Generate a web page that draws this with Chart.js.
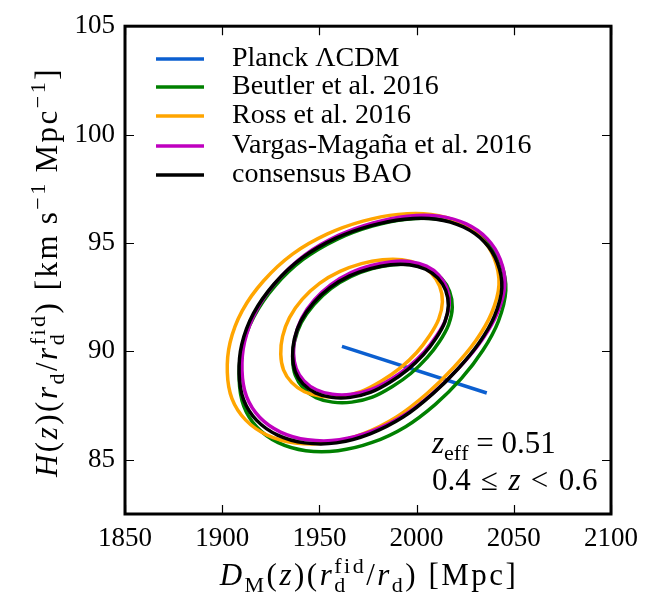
<!DOCTYPE html>
<html>
<head>
<meta charset="utf-8">
<script src="https://cdn.jsdelivr.net/npm/chart.js@4.4.1/dist/chart.umd.min.js"></script>
<style>
  html, body { margin: 0; padding: 0; background: #fff; }
  canvas { display: block; }
</style>
</head>
<body>
<canvas id="baoChart" width="647" height="596"></canvas>
<script>
// ticks
const xTicks = [1850, 1900, 1950, 2000, 2050, 2100];
const yTicks = [85, 90, 95, 100, 105];

// legend names
const seriesNames = ['Planck \u039BCDM', 'Beutler et al. 2016', 'Ross et al. 2016', 'Vargas-Maga\u00F1a et al. 2016', 'consensus BAO'];
const seriesColors = ['#0b5fd0', '#008000', '#ffa500', '#bf00bf', '#000000'];

// Planck LCDM line
const planckX = [1961.6, 2036.1];
const planckY = [90.23, 88.08];

// contour points (1 = inner, 2 = outer)
const beutler1X = [2018.36, 2016.48, 2011.78, 2005.28, 1996.99, 1987.58, 1977.25, 1966.67, 1956.77, 1948.26, 1941.74, 1937.64, 1936.24, 1937.16, 1940.66, 1947.2, 1955.93, 1966.32, 1977.25, 1987.93, 1997.83, 2006.34, 2012.86, 2016.96];
const beutler1Y = [92.04, 91.24, 90.46, 89.7, 88.98, 88.38, 87.89, 87.66, 87.66, 87.87, 88.3, 88.89, 89.62, 90.44, 91.32, 92.16, 92.9, 93.46, 93.82, 94.0, 94.0, 93.79, 93.36, 92.77];
const beutler2X = [2045.88, 2042.1, 2034.11, 2022.96, 2009.65, 1994.34, 1977.15, 1959.55, 1943.0, 1928.8, 1917.9, 1911.05, 1908.72, 1910.09, 1916.18, 1927.03, 1941.61, 1959.02, 1977.2, 1995.05, 2011.6, 2025.8, 2036.7, 2043.55];
const beutler2Y = [92.81, 91.4, 90.05, 88.74, 87.56, 86.53, 85.8, 85.42, 85.42, 85.79, 86.5, 87.49, 88.71, 90.11, 91.58, 93.0, 94.24, 95.17, 95.78, 96.1, 96.1, 95.73, 95.02, 94.03];

const ross1X = [2013.28, 2011.38, 2006.63, 2000.05, 1991.65, 1982.11, 1971.65, 1960.94, 1950.91, 1942.29, 1935.69, 1931.54, 1930.12, 1931.06, 1934.61, 1941.23, 1950.07, 1960.59, 1971.65, 1982.46, 1992.49, 2001.11, 2007.71, 2011.86];
const ross1Y = [92.29, 91.49, 90.72, 89.95, 89.24, 88.65, 88.16, 87.93, 87.93, 88.14, 88.57, 89.15, 89.87, 90.69, 91.56, 92.41, 93.14, 93.69, 94.05, 94.23, 94.23, 94.02, 93.59, 93.01];
const ross2X = [2042.37, 2038.54, 2030.42, 2019.07, 2005.49, 1989.87, 1972.35, 1954.42, 1937.56, 1923.09, 1911.99, 1905.01, 1902.63, 1904.05, 1910.27, 1921.32, 1936.17, 1953.89, 1972.4, 1990.58, 2007.44, 2021.91, 2033.01, 2039.99];
const ross2Y = [93.07, 91.76, 90.49, 89.26, 88.07, 86.99, 86.2, 85.78, 85.78, 86.14, 86.84, 87.82, 89.03, 90.41, 91.87, 93.26, 94.49, 95.41, 96.01, 96.32, 96.32, 95.96, 95.26, 94.28];

const vargas1X = [2016.83, 2014.98, 2010.38, 2004.04, 1995.96, 1986.79, 1976.72, 1966.4, 1956.74, 1948.44, 1942.08, 1938.08, 1936.71, 1937.6, 1941.0, 1947.38, 1955.9, 1966.05, 1976.72, 1987.14, 1996.8, 2005.1, 2011.46, 2015.46];
const vargas1Y = [92.25, 91.48, 90.73, 89.99, 89.3, 88.72, 88.25, 88.02, 88.02, 88.23, 88.64, 89.21, 89.91, 90.7, 91.55, 92.37, 93.08, 93.62, 93.96, 94.14, 94.14, 93.93, 93.52, 92.95];
const vargas2X = [2045.34, 2041.59, 2033.7, 2022.71, 2009.61, 1994.55, 1977.62, 1960.28, 1943.98, 1929.99, 1919.25, 1912.5, 1910.2, 1911.54, 1917.53, 1928.22, 1942.59, 1959.75, 1977.67, 1995.26, 2011.56, 2025.55, 2036.29, 2043.04];
const vargas2Y = [93.06, 91.78, 90.54, 89.33, 88.17, 87.11, 86.34, 85.92, 85.92, 86.28, 86.96, 87.92, 89.1, 90.45, 91.88, 93.25, 94.45, 95.35, 95.93, 96.24, 96.24, 95.88, 95.2, 94.24];

const consensus1X = [2016.33, 2014.48, 2009.88, 2003.54, 1995.46, 1986.29, 1976.22, 1965.9, 1956.24, 1947.94, 1941.58, 1937.58, 1936.21, 1937.1, 1940.5, 1946.88, 1955.4, 1965.55, 1976.22, 1986.64, 1996.3, 2004.6, 2010.96, 2014.96];
const consensus1Y = [92.11, 91.34, 90.59, 89.85, 89.16, 88.58, 88.11, 87.88, 87.88, 88.09, 88.5, 89.07, 89.77, 90.56, 91.41, 92.23, 92.94, 93.48, 93.82, 94.0, 94.0, 93.79, 93.38, 92.81];
const consensus2X = [2043.84, 2040.09, 2032.2, 2021.21, 2008.11, 1993.05, 1976.12, 1958.78, 1942.48, 1928.49, 1917.75, 1911.0, 1908.7, 1910.04, 1916.03, 1926.72, 1941.09, 1958.25, 1976.17, 1993.76, 2010.06, 2024.05, 2034.79, 2041.54];
const consensus2Y = [92.92, 91.64, 90.4, 89.19, 88.03, 86.97, 86.2, 85.78, 85.78, 86.14, 86.82, 87.78, 88.96, 90.31, 91.74, 93.11, 94.31, 95.21, 95.79, 96.1, 96.1, 95.74, 95.06, 94.1];

const FONT = '"Liberation Serif", "Times New Roman", serif';
const HIDE = 'rgba(0,0,0,0)';

// closed loop: wrap one point on each side, hide the wrapped segments
function loopPoints(xs, ys) {
    const n = xs.length;
    const idx = [n - 1];
    for (let i = 0; i < n; i++) idx.push(i);
    idx.push(0, 1);
    return idx.map(i => ({ x: xs[i], y: ys[i] }));
}

function contour(label, xs, ys, color, order) {
    const pts = loopPoints(xs, ys);
    const last = pts.length - 1;
    return {
        label: label,
        data: pts,
        showLine: true,
        borderColor: color,
        borderWidth: 3.5,
        borderCapStyle: 'round',
        borderJoinStyle: 'round',
        pointRadius: 0,
        tension: 0.34,
        order: order,
        segment: {
            borderColor: c => (c.p0DataIndex === 0 || c.p1DataIndex === last) ? HIDE : color
        }
    };
}

const datasets = [
    {
        label: seriesNames[0],
        data: planckX.map((x, i) => ({ x: x, y: planckY[i] })),
        showLine: true,
        borderColor: seriesColors[0],
        borderWidth: 3.5,
        pointRadius: 0,
        order: 4
    },
    contour(seriesNames[1], beutler1X, beutler1Y, seriesColors[1], 3),
    contour(seriesNames[1], beutler2X, beutler2Y, seriesColors[1], 3),
    contour(seriesNames[2], ross1X, ross1Y, seriesColors[2], 2),
    contour(seriesNames[2], ross2X, ross2Y, seriesColors[2], 2),
    contour(seriesNames[3], vargas1X, vargas1Y, seriesColors[3], 1),
    contour(seriesNames[3], vargas2X, vargas2Y, seriesColors[3], 1),
    contour(seriesNames[4], consensus1X, consensus1Y, seriesColors[4], 0),
    contour(seriesNames[4], consensus2X, consensus2Y, seriesColors[4], 0)
];

// text with sub/superscripts, drawn glyph by glyph with a little extra spacing
function partFont(p, size) {
    const s = (p.sub || p.sup) ? Math.round(size * 0.7) : size;
    return (p.i ? 'italic ' : '') + s + 'px ' + FONT;
}
function textWidth(ctx, str, sp) {
    let w = 0;
    for (const ch of str) w += ctx.measureText(ch).width + sp;
    return w;
}
function partWidth(ctx, p, size, sp) {
    ctx.font = partFont(p, size);
    let w = textWidth(ctx, p.t, sp);
    if (p.under) {
        ctx.font = partFont({ sub: true }, size);
        w = Math.max(w, textWidth(ctx, p.under, sp));
    }
    return w;
}
function spaced(ctx, str, x, y, sp) {
    for (const ch of str) {
        ctx.fillText(ch, x, y);
        x += ctx.measureText(ch).width + sp;
    }
}
function drawRich(ctx, parts, x, y, size, align, sp) {
    sp = sp || 0;
    const widths = parts.map(p => partWidth(ctx, p, size, sp));
    const total = widths.reduce((a, b) => a + b, 0);
    let cx = align === 'center' ? x - total / 2 : x;
    ctx.textAlign = 'left';
    ctx.textBaseline = 'alphabetic';
    parts.forEach((p, k) => {
        ctx.font = partFont(p, size);
        const dy = p.sub ? size * 0.22 : (p.sup ? -size * 0.4 : 0);
        spaced(ctx, p.t, cx, y + dy, sp);
        if (p.under) {
            ctx.font = partFont({ sub: true }, size);
            spaced(ctx, p.under, cx, y + size * 0.22, sp);
        }
        cx += widths[k];
    });
}

const yTitle = [
    { t: 'H', i: 1 }, { t: '(' }, { t: 'z', i: 1 }, { t: ')(' }, { t: 'r', i: 1 }, { t: 'd', sub: 1 },
    { t: '/' }, { t: 'r', i: 1 }, { t: 'fid', sup: 1, under: 'd' }, { t: ') [km\u2009s' },
    { t: '\u22121', sup: 1 }, { t: '\u2009Mpc' }, { t: '\u22121', sup: 1 }, { t: ']' }
];
const xTitle = [
    { t: 'D', i: 1 }, { t: 'M', sub: 1 }, { t: '(' }, { t: 'z', i: 1 }, { t: ')(' }, { t: 'r', i: 1 },
    { t: 'fid', sup: 1, under: 'd' }, { t: '/' }, { t: 'r', i: 1 }, { t: 'd', sub: 1 }, { t: ') [Mpc]' }
];
const noteZeff = [{ t: 'z', i: 1 }, { t: 'eff', sub: 1 }, { t: ' = 0.51' }];
const noteRange = [{ t: '0.4\u2004\u2264\u2004' }, { t: 'z', i: 1 }, { t: '\u2004<\u20040.6' }];

// frame, inward ticks, legend, labels
const decorations = {
    id: 'decorations',
    afterDraw(chart) {
        const ctx = chart.ctx;
        const a = chart.chartArea;
        const xs = chart.scales.x, ys = chart.scales.y;
        ctx.save();
        ctx.strokeStyle = '#000';
        ctx.lineWidth = 1.2;
        ctx.beginPath();
        xTicks.forEach(v => {
            const px = Math.round(xs.getPixelForValue(v)) + 0.5;
            ctx.moveTo(px, a.bottom); ctx.lineTo(px, a.bottom - 9);
            ctx.moveTo(px, a.top); ctx.lineTo(px, a.top + 9);
        });
        yTicks.forEach(v => {
            const py = Math.round(ys.getPixelForValue(v)) + 0.5;
            ctx.moveTo(a.left, py); ctx.lineTo(a.left + 9, py);
            ctx.moveTo(a.right, py); ctx.lineTo(a.right - 9, py);
        });
        ctx.stroke();
        ctx.lineWidth = 3;
        ctx.strokeRect(a.left, a.top, a.right - a.left, a.bottom - a.top);

        // legend
        const rows = [59, 87, 116, 146, 175];
        seriesNames.forEach((name, i) => {
            ctx.strokeStyle = seriesColors[i];
            ctx.lineWidth = 3.5;
            ctx.beginPath();
            ctx.moveTo(156, rows[i]); ctx.lineTo(204, rows[i]);
            ctx.stroke();
            ctx.fillStyle = '#000';
            ctx.font = '28px ' + FONT;
            ctx.textAlign = 'left';
            ctx.textBaseline = 'middle';
            ctx.fillText(name, 232, rows[i]);
        });

        ctx.fillStyle = '#000';
        drawRich(ctx, noteZeff, 432, 453, 31, 'left');
        drawRich(ctx, noteRange, 432, 490, 31, 'left');

        drawRich(ctx, xTitle, 369, 585, 31, 'center', 2.5);
        ctx.translate(57, 272);
        ctx.rotate(-Math.PI / 2);
        drawRich(ctx, yTitle, 0, 0, 31, 'center', 2.5);
        ctx.restore();
    }
};

const ctx = document.getElementById('baoChart').getContext('2d');
new Chart(ctx, {
    type: 'scatter',
    data: { datasets: datasets },
    options: {
        responsive: false,
        animation: false,
        devicePixelRatio: 1,
        layout: { padding: { top: 22, right: 29, left: 0, bottom: 0 } },
        plugins: {
            legend: { display: false },
            tooltip: { enabled: false }
        },
        scales: {
            x: {
                type: 'linear',
                min: 1850,
                max: 2100,
                afterBuildTicks: s => { s.ticks = xTicks.map(v => ({ value: v })); },
                afterFit: s => { s.height = 82; },
                ticks: { color: '#000', font: { family: FONT, size: 27 }, padding: 9, maxRotation: 0, autoSkip: false, callback: v => String(v) },
                grid: { display: false, drawTicks: false },
                border: { display: false }
            },
            y: {
                type: 'linear',
                min: 82.5,
                max: 105,
                afterBuildTicks: s => { s.ticks = yTicks.map(v => ({ value: v })); },
                afterFit: s => { s.width = 125; },
                ticks: { color: '#000', font: { family: FONT, size: 27 }, padding: 10, autoSkip: false, callback: v => String(v) },
                grid: { display: false, drawTicks: false },
                border: { display: false }
            }
        }
    },
    plugins: [decorations]
});
</script>
</body>
</html>
